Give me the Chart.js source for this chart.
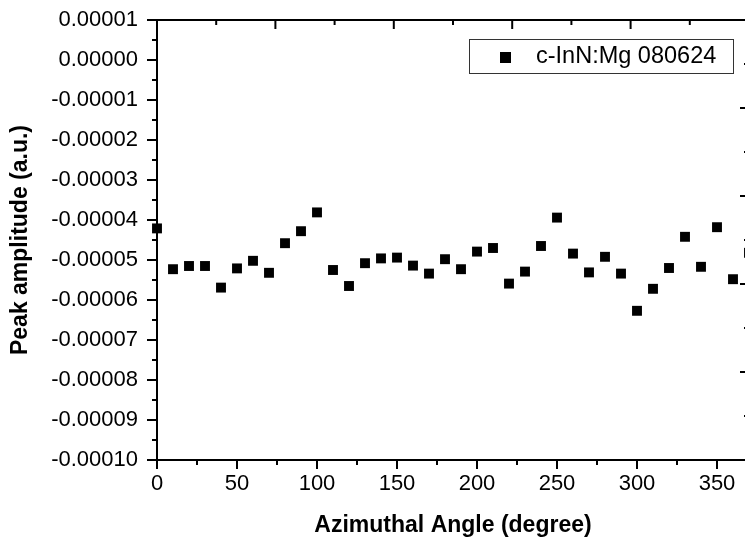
<!DOCTYPE html>
<html>
<head>
<meta charset="utf-8">
<script src="https://cdn.jsdelivr.net/npm/chart.js@4.4.0/dist/chart.umd.min.js"></script>
<style>
    html, body { margin: 0; padding: 0; background: #fff; overflow: hidden; }
    #caixaGrafico { width: 760px; height: 543px; }
</style>
</head>
<body>
<div id="caixaGrafico"><canvas id="graficoAzimutal" width="760" height="543"></canvas></div>
<script>
// Dados
const angulos = [0, 10, 20, 30, 40, 50, 60, 70, 80, 90,
    100, 110, 120, 130, 140, 150, 160, 170, 180, 190,
    200, 210, 220, 230, 240, 250, 260, 270, 280, 290,
    300, 310, 320, 330, 340, 350, 360, 370];

const amplitudes = [-0.0000421, -0.0000523, -0.0000515, -0.0000515, -0.0000569, -0.0000521, -0.0000502, -0.0000532, -0.0000458, -0.0000428,
    -0.0000381, -0.0000525, -0.0000565, -0.0000508, -0.0000496, -0.0000494, -0.0000514, -0.0000534, -0.0000498, -0.0000523,
    -0.0000479, -0.0000470, -0.0000559, -0.0000529, -0.0000465, -0.0000394, -0.0000484, -0.0000531, -0.0000492, -0.0000534,
    -0.0000627, -0.0000572, -0.0000520, -0.0000442, -0.0000517, -0.0000418, -0.0000548, -0.0000482];

const rotuloSerie = 'c-InN:Mg 080624';
const tituloX = 'Azimuthal Angle (degree)';
const tituloY = 'Peak amplitude (a.u.)';

// marcas dos eixos
const ticksX = [0, 50, 100, 150, 200, 250, 300, 350];
const limitesX = [0, 370];
const passoX = 50;
const limitesY = [-0.0001, 0.00001];
const passoY = 0.00001;

const fonte = 'Liberation Sans, Arial, Helvetica, sans-serif';

// Moldura com os tracinhos (maiores e menores) nos quatro lados
const pluginMoldura = {
    id: 'moldura',
    afterDatasetsDraw(chart) {
        const ctx = chart.ctx;
        const area = chart.chartArea;
        const escalaX = chart.scales.x;
        const escalaY = chart.scales.y;

        function traco(x1, y1, x2, y2) {
            ctx.beginPath();
            ctx.moveTo(x1, y1);
            ctx.lineTo(x2, y2);
            ctx.stroke();
        }

        ctx.save();
        ctx.strokeStyle = '#000';
        ctx.lineWidth = 2;
        ctx.strokeRect(area.left, area.top, area.right - area.left, area.bottom - area.top);

        // eixo esquerdo
        let nY = Math.round((limitesY[1] - limitesY[0]) / (passoY / 2));
        for (let i = 0; i <= nY; i++) {
            let py = escalaY.getPixelForValue(limitesY[0] + i * passoY / 2);
            let tam = (i % 2 == 0) ? 10 : 5;
            traco(area.left - tam, py, area.left, py);
        }

        // eixo de baixo
        for (let v = limitesX[0]; v <= limitesX[1]; v += passoX / 2) {
            let px = escalaX.getPixelForValue(v);
            let tam = (v % passoX == 0) ? 9 : 5;
            traco(px, area.bottom, px, area.bottom + tam);
        }

        // eixo de cima e da direita (divididos em 10 partes)
        for (let k = 0; k <= 10; k++) {
            let tam = (k % 2 == 0) ? 9 : 5;
            let px = escalaX.getPixelForValue(limitesX[0] + k * (limitesX[1] - limitesX[0]) / 10);
            traco(px, area.top, px, area.top + tam);
            let py = escalaY.getPixelForValue(limitesY[1] - k * (limitesY[1] - limitesY[0]) / 10);
            traco(area.right, py, area.right - tam, py);
        }
        ctx.restore();
    }
};

// Legenda dentro da área do gráfico
const pluginLegenda = {
    id: 'legendaInterna',
    afterDraw(chart) {
        const ctx = chart.ctx;
        const area = chart.chartArea;
        const serie = chart.data.datasets[0];

        let x0 = area.right - 280;
        let y0 = area.top + 19;
        ctx.save();
        ctx.strokeStyle = '#333';
        ctx.lineWidth = 1;
        ctx.strokeRect(Math.round(x0) + 0.5, Math.round(y0) + 0.5, 264, 34);

        ctx.fillStyle = '#000';
        ctx.fillRect(x0 + 31, y0 + 13, 11, 11);

        ctx.font = '23.5px ' + fonte;
        ctx.textBaseline = 'middle';
        ctx.textAlign = 'left';
        ctx.fillText(serie.label, x0 + 67, y0 + 18);
        ctx.restore();
    }
};

let pontos = [];
for (let i = 0; i < angulos.length; i++) {
    pontos.push({ x: angulos[i], y: amplitudes[i] });
}

const configGrafico = {
    type: 'scatter',
    data: {
        datasets: [{
            label: rotuloSerie,
            data: pontos,
            pointStyle: 'rect',
            pointRadius: 7,
            pointHoverRadius: 7,
            backgroundColor: '#000',
            borderColor: '#000',
            borderWidth: 0,
            clip: false
        }]
    },
    options: {
        responsive: false,
        animation: false,
        events: [],
        layout: { padding: { top: 20, right: 11, bottom: 0, left: 0 }, autoPadding: false },
        plugins: {
            legend: { display: false },
            tooltip: { enabled: false }
        },
        scales: {
            x: {
                type: 'linear',
                min: limitesX[0],
                max: limitesX[1],
                grid: { display: false, drawTicks: false },
                border: { display: false },
                ticks: {
                    padding: 11,
                    autoSkip: false,
                    maxRotation: 0,
                    color: '#000',
                    font: { family: fonte, size: 22 }
                },
                afterBuildTicks: function (escala) {
                    escala.ticks = ticksX.map(v => ({ value: v }));
                },
                afterFit: function (escala) {
                    escala.height = 83;
                    escala.paddingLeft = 0;
                    escala.paddingRight = 0;
                },
                title: {
                    display: true,
                    text: tituloX,
                    color: '#000',
                    font: { family: fonte, size: 23, weight: 'bold' },
                    padding: { top: 0, bottom: 4 }
                }
            },
            y: {
                type: 'linear',
                min: limitesY[0],
                max: limitesY[1],
                grid: { display: false, drawTicks: false },
                border: { display: false },
                ticks: {
                    stepSize: passoY,
                    padding: 19,
                    autoSkip: false,
                    color: '#000',
                    font: { family: fonte, size: 22 },
                    callback: function (valor) { return Number(valor).toFixed(5); }
                },
                afterFit: function (escala) {
                    escala.width = 157;
                    escala.paddingTop = 0;
                    escala.paddingBottom = 0;
                },
                title: {
                    display: true,
                    text: tituloY,
                    color: '#000',
                    font: { family: fonte, size: 23, weight: 'bold' },
                    padding: { top: 7, bottom: 0 }
                }
            }
        }
    },
    plugins: [pluginMoldura, pluginLegenda]
};

let graficoAzimutal = new Chart(document.getElementById('graficoAzimutal'), configGrafico);
</script>
</body>
</html>
